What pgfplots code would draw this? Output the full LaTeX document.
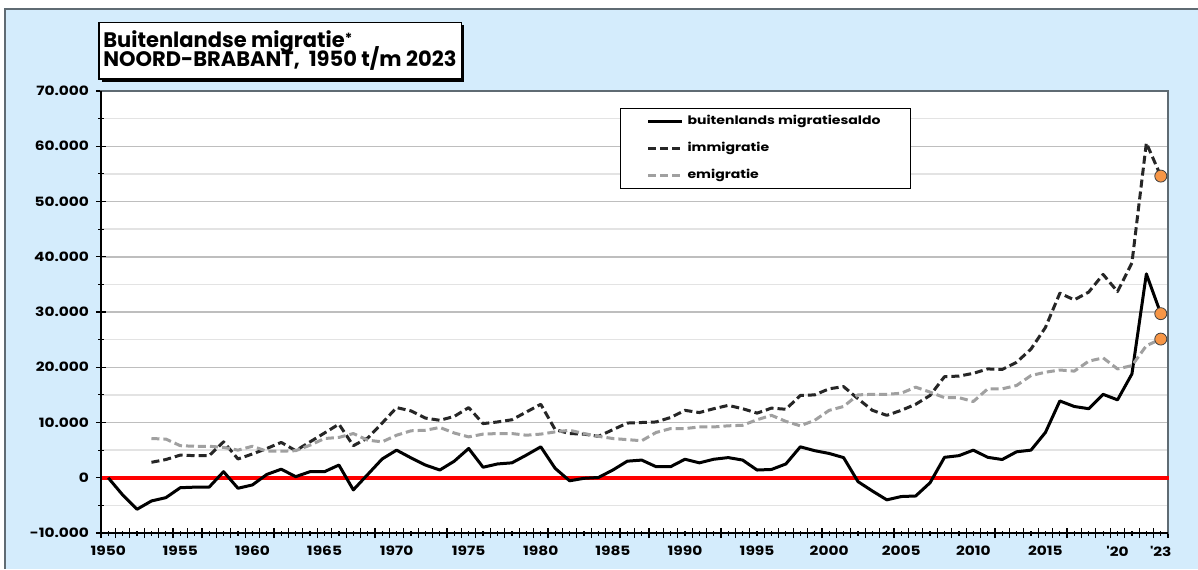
\documentclass[border=0pt]{standalone}
\usepackage{pgfplots}
\pgfplotsset{compat=1.18}
\usepackage{pgfplotstable}
\usepackage{fontspec}
\setmainfont{Poppins}
\newfontfamily\tickfont[FakeStretch=1.2]{Poppins}
\definecolor{bgblue}{HTML}{D4ECFC}
\definecolor{framegray}{HTML}{5F6B73}
\definecolor{immcol}{HTML}{262626}
\definecolor{emicol}{HTML}{A0A0A0}
\definecolor{dotorange}{HTML}{F79646}
\definecolor{gridmaj}{HTML}{BEBEBE}
\definecolor{gridmin}{HTML}{E3E3E3}

\pgfplotstableread{
year saldo imm emi
1950 0 nan nan
1951 -3.1 nan nan
1952 -5.7 nan nan
1953 -4.2 2.8 7.1
1954 -3.6 3.3 7.0
1955 -1.8 4.1 5.8
1956 -1.7 4.0 5.7
1957 -1.7 4.0 5.7
1958 1.1 6.5 5.5
1959 -1.9 3.4 5.0
1960 -1.3 4.3 5.7
1961 0.6 5.3 4.8
1962 1.55 6.4 4.8
1963 0.2 4.9 4.9
1964 1.1 6.5 5.9
1965 1.1 8.1 7.1
1966 2.3 9.7 7.3
1967 -2.2 5.8 8.0
1968 0.6 7.2 6.8
1969 3.4 9.9 6.5
1970 5.0 12.7 7.7
1971 3.6 12.1 8.5
1972 2.3 10.8 8.6
1973 1.4 10.4 9.1
1974 3.0 11.1 8.1
1975 5.3 12.7 7.4
1976 1.9 9.8 7.9
1977 2.5 10.1 8.0
1978 2.7 10.5 8.0
1979 4.1 11.9 7.7
1980 5.6 13.3 7.9
1981 1.7 8.7 8.3
1982 -0.55 8.0 8.6
1983 -0.1 7.9 8.0
1984 0.05 7.5 7.5
1985 1.4 8.7 7.1
1986 3.0 9.9 6.9
1987 3.2 10.0 6.7
1988 2.0 10.1 8.2
1989 2.0 10.9 8.9
1990 3.35 12.2 8.9
1991 2.7 11.8 9.2
1992 3.35 12.5 9.2
1993 3.65 13.1 9.4
1994 3.2 12.5 9.5
1995 1.4 11.7 10.5
1996 1.5 12.6 11.3
1997 2.5 12.4 10.2
1998 5.6 14.9 9.4
1999 4.9 15.0 10.4
2000 4.4 16.1 12.2
2001 3.65 16.5 12.9
2002 -0.7 14.3 15.0
2003 -2.4 12.2 15.1
2004 -4.0 11.3 15.1
2005 -3.4 12.2 15.3
2006 -3.3 13.3 16.4
2007 -0.9 14.9 15.5
2008 3.7 18.3 14.5
2009 4.0 18.4 14.5
2010 5.0 18.9 13.8
2011 3.7 19.7 16.1
2012 3.3 19.6 16.1
2013 4.7 20.9 16.7
2014 5.0 23.3 18.5
2015 8.2 27.2 19.1
2016 13.9 33.4 19.5
2017 12.9 32.2 19.3
2018 12.5 33.6 21.1
2019 15.1 36.8 21.7
2020 14.1 33.7 19.7
2021 18.8 38.9 20.3
2022 36.9 60.6 23.9
2023 29.7 54.6 25.1
}\datatable

\begin{document}
\begin{tikzpicture}
\path[use as bounding box] (0,0) rectangle (599pt,284.5pt);
\fill[white] (0,0) rectangle (599pt,284.5pt);
\fill[bgblue] (2.5pt,0) rectangle (599pt,280pt);
\draw[framegray, line width=1pt] (2.5pt,0) -- (2.5pt,280pt) -- (599pt,280pt);
\begin{axis}[
  at={(50.5pt,18pt)}, anchor=south west,
  scale only axis, width=533.5pt, height=221pt,
  axis background/.style={fill=white},
  xmin=1949.5, xmax=2023.5, ymin=-10, ymax=70,
  xtick={1949.5,1950.5,...,2023.5}, xticklabels={},
  minor xtick={1950,1951,...,2023},
  extra x ticks={1950,1955,1960,1965,1970,1975,1980,1985,1990,1995,2000,2005,2010,2015,2020,2023},
  extra x tick labels={1950,1955,1960,1965,1970,1975,1980,1985,1990,1995,2000,2005,2010,2015,'20,'23},
  extra x tick style={major tick length=0pt, grid=none},
  xticklabel style={yshift=-3pt},
  ytick={-10,0,10,20,30,40,50,60,70},
  yticklabels={-10.000,0,10.000,20.000,30.000,40.000,50.000,60.000,70.000},
  minor ytick={-5,5,15,25,35,45,55,65},
  ymajorgrids, yminorgrids,
  major grid style={gridmaj, line width=0.75pt},
  minor grid style={gridmin, line width=0.75pt},
  tick align=center, tick pos=left,
  major tick length=5pt, minor tick length=2.5pt,
  tick style={black, line width=0.6pt},
  axis line style={framegray, line width=1pt},
  ticklabel style={font=\tickfont\bfseries\fontsize{6.4}{7}\selectfont},
  clip=false,
  legend style={at={(0.4864,0.962)}, anchor=north west, draw=black, line width=0.6pt, fill=white,
    inner xsep=13pt, inner ysep=1.5pt, row sep=3.2pt,
    font=\tickfont\bfseries\fontsize{5.85}{7}\selectfont, cells={anchor=west}},
  legend image code/.code={\draw[#1] (0pt,0pt) -- (17pt,0pt);},
]
\addplot[red, line width=1.75pt, forget plot] coordinates {(1949.5,0) (2023.6,0)};
\draw[black, line width=1pt] (rel axis cs:0,1) -- (rel axis cs:0,0) -- (rel axis cs:1,0);
\addplot[black, line width=1.5pt, line join=round] table[x=year,y=saldo]{\datatable};
\addlegendentry{buitenlands migratiesaldo}
\addplot[immcol, line width=1.5pt, line join=round, dash pattern=on 4pt off 2pt] table[x=year,y=imm]{\datatable};
\addlegendentry{immigratie}
\addplot[emicol, line width=1.5pt, line join=round, dash pattern=on 4pt off 2pt] table[x=year,y=emi]{\datatable};
\addlegendentry{emigratie}
\addplot[only marks, mark=*, mark size=3pt, mark options={fill=dotorange, draw=black!75, line width=0.4pt, solid}, forget plot] coordinates {(2023,29.7) (2023,54.6) (2023,25.1)};
\end{axis}
\fill[black] (50.75pt,243.7pt) rectangle (232.1pt,271.9pt);
\draw[black, fill=white, line width=0.75pt] (49.5pt,245pt) rectangle (230.85pt,273.15pt);
\node[anchor=base west, inner sep=0pt, font=\bfseries\fontsize{10.5}{12}\selectfont] at (51.5pt,260.65pt) {Buitenlandse migratie\raisebox{2pt}{\fontsize{7}{8}\selectfont *}};
\node[anchor=base west, inner sep=0pt, font=\bfseries\fontsize{10.5}{12}\selectfont] at (51.5pt,251.15pt) {NOORD-BRABANT,\ \ 1950 t/m 2023};
\end{tikzpicture}
\end{document}
